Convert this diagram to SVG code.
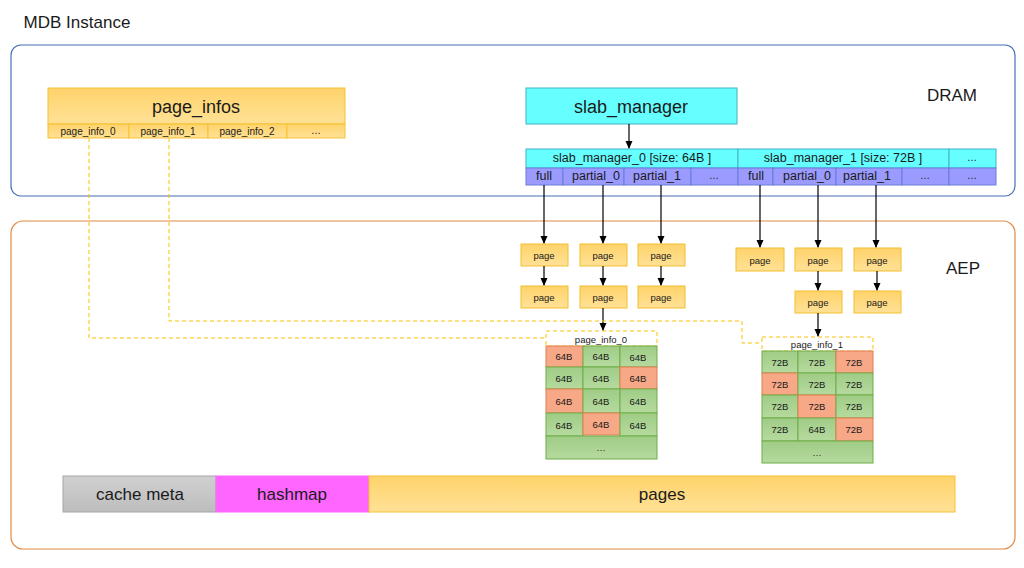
<svg xmlns="http://www.w3.org/2000/svg" width="1024" height="568" viewBox="0 0 1024 568">
<defs>
<marker id="arr" markerWidth="8" markerHeight="8" refX="7" refY="4" orient="auto" markerUnits="userSpaceOnUse">
<path d="M0,0.5 L8,4 L0,7.5 z" fill="#000"/>
</marker>
<linearGradient id="gOr" x1="0" y1="0" x2="0" y2="1"><stop offset="0" stop-color="#FFD36B"/><stop offset="1" stop-color="#FFE196"/></linearGradient>
<linearGradient id="gGray" x1="0" y1="0" x2="0" y2="1"><stop offset="0" stop-color="#D0D0D0"/><stop offset="1" stop-color="#BDBDBD"/></linearGradient>
<linearGradient id="gGreen" x1="0" y1="0" x2="0" y2="1"><stop offset="0" stop-color="#9FCC86"/><stop offset="1" stop-color="#B6DA9F"/></linearGradient>
</defs>
<style>
text{font-family:"Liberation Sans",Arial,sans-serif;fill:#1a1a1a;text-anchor:middle;dominant-baseline:central}
.or{fill:url(#gOr);stroke:#F5C235;stroke-width:1}
.pg{fill:url(#gOr);stroke:#F3BE2E;stroke-width:1}
.cy{fill:#66FFFF;stroke:#3FB4C8;stroke-width:1}
.pu{fill:#9A9AFF;stroke:#6D7DD6;stroke-width:1}
.gr{fill:url(#gGreen);stroke:#6FAD47;stroke-width:1}
.sa{fill:#F6A887;stroke:#E07F4F;stroke-width:1}
.dash{fill:none;stroke:#FFC000;stroke-width:1;stroke-dasharray:4,3}
.ar{stroke:#000;stroke-width:1.2;fill:none;marker-end:url(#arr)}
.s9{font-size:9.5px}
.s10{font-size:10px}
.s12{font-size:12.5px}
</style>

<text x="77" y="22" style="font-size:17px">MDB Instance</text>

<g id="dram">
<rect x="11" y="45" width="1004" height="151" rx="10" fill="none" stroke="#4A6DB5" stroke-width="1.2"/>
<text x="952" y="95" style="font-size:17px">DRAM</text>
</g>
<g id="aep">
<rect x="11" y="221" width="1004" height="328" rx="12" fill="none" stroke="#E08A45" stroke-width="1.2"/>
<text x="963" y="268" style="font-size:17px">AEP</text>
</g>

<g id="page_infos">
<rect class="or" x="48" y="88" width="297" height="36"/>
<text x="196" y="107" style="font-size:18px">page_infos</text>
<rect class="or" x="48" y="124" width="81" height="14"/><text class="s10" x="88" y="131">page_info_0</text>
<rect class="or" x="129" y="124" width="79" height="14"/><text class="s10" x="168" y="131">page_info_1</text>
<rect class="or" x="208" y="124" width="79" height="14"/><text class="s10" x="247" y="131">page_info_2</text>
<rect class="or" x="287" y="124" width="58" height="14"/><text class="s10" x="316" y="130">…</text>
</g>

<g id="slab_manager">
<rect class="cy" x="526" y="88" width="211" height="36"/>
<text x="631" y="107" style="font-size:18px">slab_manager</text>
</g>

<g id="slab_managers">
<rect class="cy" x="526" y="149" width="212" height="19"/><text class="s12" x="632" y="158">slab_manager_0 [size: 64B ]</text>
<rect class="cy" x="738" y="149" width="211" height="19"/><text class="s12" x="843" y="158">slab_manager_1 [size: 72B ]</text>
<rect class="cy" x="949" y="149" width="47" height="19"/><text class="s10" x="972" y="157">…</text>
<rect class="pu" x="526" y="168" width="37" height="17"/><text class="s12" x="544" y="176">full</text>
<rect class="pu" x="563" y="168" width="61" height="17"/><text class="s12" x="596" y="176">partial_0</text>
<rect class="pu" x="624" y="168" width="67" height="17"/><text class="s12" x="657" y="176">partial_1</text>
<rect class="pu" x="691" y="168" width="47" height="17"/><text class="s10" x="714" y="175">…</text>
<rect class="pu" x="738" y="168" width="35" height="17"/><text class="s12" x="756" y="176">full</text>
<rect class="pu" x="773" y="168" width="63" height="17"/><text class="s12" x="807" y="176">partial_0</text>
<rect class="pu" x="836" y="168" width="66" height="17"/><text class="s12" x="867" y="176">partial_1</text>
<rect class="pu" x="902" y="168" width="47" height="17"/><text class="s10" x="925" y="175">…</text>
<rect class="pu" x="949" y="168" width="47" height="17"/><text class="s10" x="972" y="175">…</text>
</g>

<g id="pages_64">
<rect class="pg" x="521" y="244" width="47" height="22"/><text class="s9" x="544" y="255">page</text>
<rect class="pg" x="580" y="244" width="47" height="22"/><text class="s9" x="603" y="255">page</text>
<rect class="pg" x="638" y="244" width="47" height="22"/><text class="s9" x="661" y="255">page</text>
<rect class="pg" x="521" y="286" width="47" height="22"/><text class="s9" x="544" y="297">page</text>
<rect class="pg" x="580" y="286" width="47" height="22"/><text class="s9" x="603" y="297">page</text>
<rect class="pg" x="638" y="286" width="47" height="22"/><text class="s9" x="661" y="297">page</text>
</g>

<g id="pages_72">
<rect class="pg" x="736" y="248" width="48" height="23"/><text class="s9" x="760" y="260">page</text>
<rect class="pg" x="795" y="248" width="47" height="23"/><text class="s9" x="818" y="260">page</text>
<rect class="pg" x="854" y="248" width="47" height="23"/><text class="s9" x="877" y="260">page</text>
<rect class="pg" x="795" y="291" width="47" height="22"/><text class="s9" x="818" y="302">page</text>
<rect class="pg" x="854" y="291" width="47" height="22"/><text class="s9" x="877" y="302">page</text>
</g>

<g id="page_info_0">
<rect x="546" y="331" width="111" height="15" fill="#fff" stroke="#FFC000" stroke-dasharray="4,3"/>
<text class="s9" x="601" y="339">page_info_0</text>
<rect class="sa" x="546" y="346" width="37" height="21"/><text class="s9" x="564" y="356">64B</text>
<rect class="gr" x="583" y="346" width="37" height="21"/><text class="s9" x="601" y="356">64B</text>
<rect class="gr" x="620" y="346" width="37" height="21"/><text class="s9" x="638" y="357">64B</text>
<rect class="gr" x="546" y="367" width="37" height="22"/><text class="s9" x="564" y="378">64B</text>
<rect class="gr" x="583" y="367" width="37" height="22"/><text class="s9" x="601" y="378">64B</text>
<rect class="sa" x="620" y="367" width="37" height="22"/><text class="s9" x="638" y="378">64B</text>
<rect class="sa" x="546" y="389" width="37" height="24"/><text class="s9" x="564" y="401">64B</text>
<rect class="gr" x="583" y="389" width="37" height="24"/><text class="s9" x="601" y="401">64B</text>
<rect class="gr" x="620" y="389" width="37" height="24"/><text class="s9" x="638" y="401">64B</text>
<rect class="gr" x="546" y="413" width="37" height="23"/><text class="s9" x="564" y="425">64B</text>
<rect class="sa" x="583" y="413" width="37" height="22"/><text class="s9" x="601" y="424">64B</text>
<rect class="gr" x="620" y="413" width="37" height="23"/><text class="s9" x="638" y="425">64B</text>
<rect class="gr" x="546" y="436" width="111" height="23"/><text class="s9" x="601" y="447">…</text>
</g>

<g id="page_info_1">
<rect x="762" y="337" width="111" height="14" fill="#fff" stroke="#FFC000" stroke-dasharray="4,3"/>
<text class="s9" x="817" y="344">page_info_1</text>
<rect class="gr" x="762" y="351" width="36" height="22"/><text class="s9" x="780" y="362">72B</text>
<rect class="gr" x="798" y="351" width="38" height="22"/><text class="s9" x="817" y="362">72B</text>
<rect class="sa" x="836" y="351" width="37" height="22"/><text class="s9" x="854" y="362">72B</text>
<rect class="sa" x="762" y="373" width="36" height="22"/><text class="s9" x="780" y="384">72B</text>
<rect class="gr" x="798" y="373" width="38" height="22"/><text class="s9" x="817" y="384">72B</text>
<rect class="gr" x="836" y="373" width="37" height="22"/><text class="s9" x="854" y="384">72B</text>
<rect class="gr" x="762" y="395" width="36" height="23"/><text class="s9" x="780" y="406">72B</text>
<rect class="sa" x="798" y="395" width="38" height="23"/><text class="s9" x="817" y="406">72B</text>
<rect class="gr" x="836" y="395" width="37" height="23"/><text class="s9" x="854" y="406">72B</text>
<rect class="gr" x="762" y="418" width="36" height="23"/><text class="s9" x="780" y="429">72B</text>
<rect class="gr" x="798" y="418" width="38" height="23"/><text class="s9" x="817" y="429">64B</text>
<rect class="sa" x="836" y="418" width="37" height="23"/><text class="s9" x="854" y="429">72B</text>
<rect class="gr" x="762" y="441" width="111" height="22"/><text class="s9" x="817" y="452">…</text>
</g>

<g id="memory_layout">
<rect x="63" y="476" width="153" height="36" fill="url(#gGray)" stroke="#A6A6A6"/>
<text x="140" y="494" style="font-size:17px">cache meta</text>
<rect x="216" y="476" width="153" height="36" fill="#FF66FF" stroke="#FF66FF"/>
<text x="292" y="494" style="font-size:17px">hashmap</text>
<rect x="369" y="476" width="586" height="36" fill="url(#gOr)" stroke="#F5C235"/>
<text x="662" y="494" style="font-size:17px">pages</text>
</g>

<g id="connectors">
<line class="ar" x1="629" y1="124" x2="629" y2="148"/>
<line class="ar" x1="544" y1="185" x2="544" y2="243"/>
<line class="ar" x1="603" y1="185" x2="603" y2="243"/>
<line class="ar" x1="661" y1="185" x2="661" y2="243"/>
<line class="ar" x1="760" y1="185" x2="760" y2="247"/>
<line class="ar" x1="818" y1="185" x2="818" y2="247"/>
<line class="ar" x1="876" y1="185" x2="876" y2="247"/>
<line class="ar" x1="544" y1="266" x2="544" y2="285"/>
<line class="ar" x1="603" y1="266" x2="603" y2="285"/>
<line class="ar" x1="661" y1="266" x2="661" y2="285"/>
<line class="ar" x1="818" y1="271" x2="818" y2="290"/>
<line class="ar" x1="877" y1="271" x2="877" y2="290"/>
<line class="ar" x1="603" y1="308" x2="603" y2="330"/>
<line class="ar" x1="818" y1="313" x2="818" y2="336"/>
<path class="dash" d="M89,138 V338 H546"/>
<path class="dash" d="M169,138 V321 H742 V343 H762"/>
</g>
</svg>
